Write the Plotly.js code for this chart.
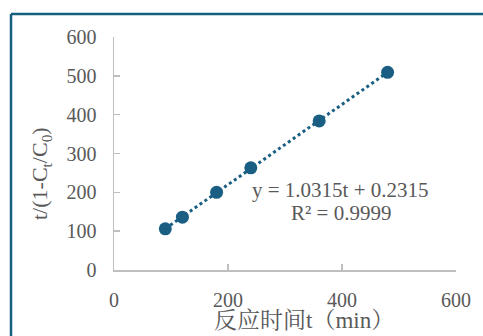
<!DOCTYPE html>
<html>
<head>
<meta charset="utf-8">
<script src="https://cdn.plot.ly/plotly-3.0.1.min.js"></script>
<style>html,body{margin:0;padding:0;background:#fff;}#chart{width:483px;height:336px;}</style>
</head>
<body>
<div id="chart"></div>
<script>
const reactionTime = [90, 120, 180, 240, 360, 480];
const yValues = [106, 136, 200, 263, 384, 509];
const xTicks = [0, 200, 400, 600];
const yTicks = [0, 100, 200, 300, 400, 500, 600];
const equationText = 'y = 1.0315t + 0.2315';
const r2Text = 'R² = 0.9999';
const xTitle = '反应时间t（min）';
const yTitle = 't/(1-C<sub>t</sub>/C<sub>0</sub>)';

// least-squares trendline from the data
const n = reactionTime.length;
const mx = reactionTime.reduce((a, b) => a + b, 0) / n;
const my = yValues.reduce((a, b) => a + b, 0) / n;
let sxy = 0, sxx = 0;
for (let i = 0; i < n; i++) { sxy += (reactionTime[i] - mx) * (yValues[i] - my); sxx += (reactionTime[i] - mx) ** 2; }
const slope = sxy / sxx, icpt = my - slope * mx;
const xMin = Math.min(...reactionTime), xMax = Math.max(...reactionTime);
const trendX = [xMin, xMax];
const trendY = trendX.map(v => slope * v + icpt);

const col = '#1a5f83';
const gray = '#595959';
const serif = 'Liberation Serif, Times New Roman, Noto Serif CJK SC, Noto Sans CJK SC, serif';

const W = 483, H = 336, L = 114, R = 27, T = 37, B = 66;
const pw = W - L - R, ph = H - T - B;
const px = x => (x - L) / pw;
const py = y => (H - B - y) / ph;

const data = [
  { x: trendX, y: trendY, mode: 'lines', line: { color: col, width: 3, dash: 'dot' }, hoverinfo: 'skip', showlegend: false },
  { x: reactionTime, y: yValues, mode: 'markers', marker: { color: col, size: 13 }, showlegend: false, cliponaxis: false }
];

const layout = {
  width: W, height: H,
  margin: { l: L, r: R, t: T, b: B, pad: 0 },
  paper_bgcolor: '#fff', plot_bgcolor: '#fff',
  showlegend: false,
  xaxis: {
    range: [0, 600], tickvals: xTicks, ticktext: xTicks.map(String),
    showgrid: false, zeroline: false, showline: true, linecolor: '#bfbfbf', linewidth: 1.5,
    ticks: 'inside', ticklen: 6, tickcolor: '#bfbfbf', tickwidth: 1.5,
    tickfont: { family: serif, size: 20, color: gray }, ticklabelstandoff: 11,
    fixedrange: true
  },
  yaxis: {
    range: [0, 600], tickvals: yTicks, ticktext: yTicks.map(String),
    showgrid: false, zeroline: false, showline: true, linecolor: '#bfbfbf', linewidth: 1.5,
    ticks: 'inside', ticklen: 6, tickcolor: '#bfbfbf', tickwidth: 1.5,
    tickfont: { family: serif, size: 20, color: gray }, ticklabelstandoff: 12,
    fixedrange: true
  },
  annotations: [
    { xref: 'paper', yref: 'paper', x: px(340), y: py(190), text: equationText, showarrow: false, xanchor: 'center', yanchor: 'middle', font: { family: serif, size: 21, color: gray } },
    { xref: 'paper', yref: 'paper', x: px(341), y: py(213), text: r2Text, showarrow: false, xanchor: 'center', yanchor: 'middle', font: { family: serif, size: 21, color: gray } },
    { xref: 'paper', yref: 'paper', x: px(304), y: py(320), text: xTitle, showarrow: false, xanchor: 'center', yanchor: 'middle', font: { family: serif, size: 23, color: gray } },
    { xref: 'paper', yref: 'paper', x: px(41), y: py(174), text: yTitle, showarrow: false, textangle: -90, xanchor: 'center', yanchor: 'middle', font: { family: serif, size: 22, color: gray } }
  ],
  shapes: [
    { type: 'line', xref: 'paper', yref: 'paper', x0: px(11), x1: px(W + 5), y0: py(14), y1: py(14), line: { color: '#16607f', width: 2.5 } },
    { type: 'line', xref: 'paper', yref: 'paper', x0: px(11), x1: px(11), y0: py(14), y1: py(H + 5), line: { color: '#16607f', width: 2.5 } }
  ]
};

Plotly.newPlot('chart', data, layout, { displayModeBar: false, staticPlot: true });
</script>
</body>
</html>
